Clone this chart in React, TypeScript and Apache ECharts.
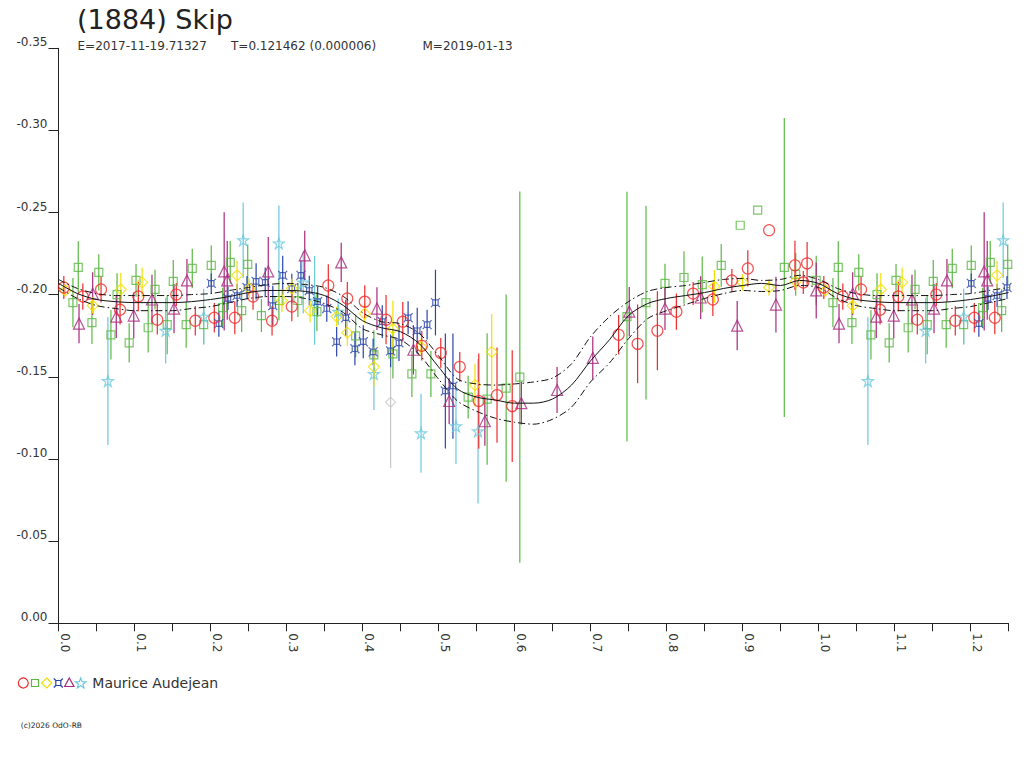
import React, { useEffect, useRef } from 'react';
import * as echarts from 'echarts';

// phase of the fitted curve and its two envelopes
const curvePhase = [
  0, 0.025, 0.05, 0.075, 0.1, 0.125, 0.15, 0.175, 0.2, 0.225, 0.25, 0.275, 0.3, 0.325,
  0.35, 0.375, 0.4, 0.425, 0.45, 0.475, 0.5, 0.525, 0.55, 0.575, 0.6, 0.625, 0.65,
  0.675, 0.7, 0.725, 0.75, 0.775, 0.8, 0.825, 0.85, 0.875, 0.9, 0.925, 0.95, 0.975, 1.0,
];
const fitMag = [
  -0.2069, -0.2007, -0.1971, -0.1958, -0.1952, -0.1952, -0.1952, -0.1958, -0.1971, -0.1989,
  -0.2013, -0.2026, -0.2026, -0.202, -0.1995, -0.1934, -0.1842, -0.1799, -0.1775, -0.1701,
  -0.1561, -0.1426, -0.1377, -0.1359, -0.134, -0.134, -0.1365, -0.145, -0.1597, -0.1726,
  -0.1873, -0.1946, -0.1977, -0.1995, -0.2013, -0.2038, -0.2056, -0.2069, -0.2056, -0.2087,
  -0.2069,
];
const upperMag = [
  -0.2093, -0.2038, -0.2007, -0.1995, -0.1995, -0.1995, -0.1995, -0.2001, -0.2007, -0.2026,
  -0.2044, -0.2062, -0.2069, -0.2062, -0.2044, -0.1989, -0.1891, -0.1836, -0.1824, -0.1763,
  -0.1628, -0.1487, -0.1457, -0.145, -0.1457, -0.1469, -0.1493, -0.1579, -0.1744, -0.1867,
  -0.1958, -0.202, -0.2044, -0.2056, -0.2075, -0.2093, -0.2099, -0.2087, -0.2093, -0.2118,
  -0.2093,
];
const lowerMag = [
  -0.2044, -0.1977, -0.1934, -0.1916, -0.1903, -0.1903, -0.1903, -0.1916, -0.1928, -0.1952,
  -0.1977, -0.1989, -0.1989, -0.1977, -0.1946, -0.1891, -0.1793, -0.1756, -0.1726, -0.1634,
  -0.1487, -0.1353, -0.1291, -0.1248, -0.1224, -0.1212, -0.1242, -0.1316, -0.1469, -0.1585,
  -0.1732, -0.1854, -0.1903, -0.194, -0.1977, -0.2007, -0.2026, -0.202, -0.2026, -0.2056,
  -0.2044,
];

// observations: [phase, mag, error]
const redCircle = [
  [0.007, -0.2044, 0.007], [0.032, -0.1989, 0.008], [0.056, -0.2032, 0.008], [0.081, -0.1909, 0.009],
  [0.105, -0.1989, 0.009], [0.13, -0.1848, 0.009], [0.155, -0.2001, 0.007], [0.18, -0.1842, 0.009],
  [0.205, -0.186, 0.009], [0.232, -0.186, 0.01], [0.256, -0.1989, 0.008], [0.281, -0.1842, 0.009],
  [0.307, -0.1928, 0.009], [0.355, -0.2056, 0.013], [0.38, -0.1977, 0.01], [0.403, -0.1958, 0.01],
  [0.431, -0.1848, 0.015], [0.453, -0.1836, 0.012], [0.478, -0.1689, 0.009], [0.503, -0.1646, 0.009],
  [0.528, -0.1561, 0.009], [0.553, -0.1353, 0.029], [0.577, -0.1389, 0.029], [0.597, -0.1322, 0.034],
  [0.737, -0.1756, 0.012], [0.762, -0.1701, 0.024], [0.788, -0.1781, 0.024], [0.813, -0.1897, 0.011],
  [0.835, -0.2007, 0.007], [0.861, -0.1971, 0.01], [0.886, -0.2087, 0.007], [0.907, -0.216, 0.011],
  [0.935, -0.2393, 0], [0.969, -0.2179, 0.015], [0.98, -0.2075, 0.007], [0.985, -0.2191, 0.013],
];
const greenSquare = [
  [0.019, -0.1952, 0.015], [0.026, -0.2166, 0.016], [0.044, -0.183, 0.013], [0.053, -0.2136, 0.011],
  [0.069, -0.1756, 0.015], [0.077, -0.2001, 0.013], [0.093, -0.1707, 0.012], [0.102, -0.2087, 0.01],
  [0.118, -0.1799, 0.015], [0.127, -0.2032, 0.012], [0.143, -0.1818, 0.018], [0.151, -0.2081, 0.013],
  [0.168, -0.1818, 0.014], [0.176, -0.216, 0.012], [0.191, -0.1818, 0.012], [0.201, -0.2179, 0.012],
  [0.216, -0.1922, 0.012], [0.226, -0.2197, 0.013], [0.241, -0.1903, 0.013], [0.249, -0.2185, 0.012],
  [0.267, -0.1873, 0.01], [0.29, -0.1965, 0.012], [0.315, -0.1965, 0.01], [0.34, -0.1897, 0.012],
  [0.391, -0.175, 0.013], [0.415, -0.1634, 0.015], [0.44, -0.164, 0.015], [0.465, -0.1518, 0.014],
  [0.49, -0.1518, 0.014], [0.539, -0.1377, 0.013], [0.564, -0.1365, 0.04], [0.589, -0.1432, 0.057],
  [0.607, -0.1499, 0.113], [0.748, -0.1867, 0.076], [0.773, -0.1952, 0.059], [0.798, -0.2069, 0.012],
  [0.823, -0.2105, 0.016], [0.847, -0.2062, 0.017], [0.872, -0.2179, 0.013], [0.897, -0.2423, 0],
  [0.92, -0.2515, 0], [0.955, -0.2166, 0.091], [0.97, -0.2124, 0.013], [0.997, -0.2087, 0.015],
];
const yellowDiamond = [
  [0.009, -0.2026, 0.004], [0.045, -0.1934, 0.005], [0.082, -0.2032, 0.01], [0.11, -0.2075, 0.009],
  [0.235, -0.2118, 0.009], [0.251, -0.2038, 0.006], [0.294, -0.1965, 0.007], [0.307, -0.2038, 0.006],
  [0.331, -0.1903, 0.007], [0.366, -0.1867, 0.006], [0.38, -0.1769, 0.008], [0.403, -0.1885, 0.006],
  [0.415, -0.1561, 0.012], [0.44, -0.1793, 0.017], [0.477, -0.1683, 0.005], [0.548, -0.145, 0.013],
  [0.57, -0.1652, 0.023], [0.863, -0.205, 0.01], [0.9, -0.2075, 0.005], [0.935, -0.2044, 0.005],
  [0.97, -0.2081, 0.005],
];
const grayDiamond = [[0.437, -0.1346, 0.04]];
const blueCross = [
  [0.201, -0.2069, 0.006], [0.211, -0.1824, 0.008], [0.223, -0.1977, 0.007], [0.235, -0.1995, 0.007],
  [0.248, -0.2044, 0.007], [0.26, -0.2081, 0.011], [0.272, -0.2075, 0.009], [0.282, -0.1934, 0.012],
  [0.295, -0.2118, 0.012], [0.307, -0.2038, 0.009], [0.319, -0.2118, 0.009], [0.33, -0.2026, 0.009],
  [0.341, -0.1958, 0.009], [0.353, -0.1916, 0.008], [0.366, -0.1714, 0.009], [0.378, -0.186, 0.011],
  [0.39, -0.1671, 0.01], [0.401, -0.1714, 0.01], [0.414, -0.1652, 0.008], [0.426, -0.1836, 0.01],
  [0.437, -0.1658, 0.01], [0.448, -0.1707, 0.011], [0.46, -0.186, 0.01], [0.472, -0.1781, 0.014],
  [0.485, -0.1818, 0.009], [0.496, -0.1952, 0.02], [0.509, -0.1414, 0.035], [0.519, -0.1444, 0.032],
];
const purpleTriangle = [
  [0.027, -0.1824, 0.012], [0.045, -0.2007, 0.013], [0.076, -0.1867, 0.013], [0.099, -0.1873, 0.014],
  [0.123, -0.1971, 0.015], [0.152, -0.1916, 0.015], [0.169, -0.2087, 0.013], [0.218, -0.2142, 0.036],
  [0.222, -0.2087, 0.024], [0.276, -0.2142, 0.021], [0.324, -0.224, 0.015], [0.372, -0.2197, 0.012],
  [0.419, -0.1916, 0.013], [0.467, -0.1665, 0.015], [0.514, -0.1353, 0.014], [0.561, -0.123, 0.015],
  [0.609, -0.134, 0.013], [0.656, -0.142, 0.014], [0.703, -0.1616, 0.013], [0.751, -0.1897, 0.015],
  [0.798, -0.1916, 0.013], [0.845, -0.1983, 0.013], [0.893, -0.1812, 0.015], [0.944, -0.194, 0.017],
  [0.997, -0.2026, 0.017],
];
const cyanStar = [
  [0.065, -0.1475, 0.039], [0.141, -0.1781, 0.02], [0.191, -0.1867, 0.017], [0.243, -0.2332, 0.023],
  [0.29, -0.2313, 0.023], [0.322, -0.2075, 0.019], [0.337, -0.1965, 0.027], [0.368, -0.1897, 0.008],
  [0.415, -0.1518, 0.022], [0.477, -0.1157, 0.024], [0.523, -0.12, 0.023], [0.552, -0.1169, 0.044],
];

const RED = '#f02a2a';
const GREEN = '#5ab843';
const YELLOW = '#f2e000';
const BLUE = '#2b45a8';
const PURPLE = '#a8297d';
const CYAN = '#6cc8dc';
const GRAY = '#c8c8c8';
const FONT = '"DejaVu Sans", sans-serif';

const STAR = 'path://M5,0L6.2,3.6L10,3.6L6.9,5.8L8.1,9.5L5,7.2L1.9,9.5L3.1,5.8L0,3.6L3.8,3.6Z';
const CROSS = 'path://M2,2L8,2L8,8L2,8Z M0,0L2,2 M10,0L8,2 M10,10L8,8 M0,10L2,8';

// the folded phase plot repeats phases 0 - 0.25 after 1.0
const fold = (pts: number[][]) =>
  pts.concat(pts.filter((p) => p[0] > 0 && p[0] <= 0.25).map((p) => [p[0] + 1, ...p.slice(1)]));

const curve = (mags: number[]) =>
  fold(curvePhase.map((p, i) => [p, mags[i]]));

function obsSeries(name: string, data: number[][], color: string, symbol: string, size: number) {
  const pts = fold(data);
  return [
    {
      name: name + '-err',
      type: 'custom',
      clip: true,
      data: pts,
      encode: { x: 0, y: 1 },
      renderItem: (_p: any, api: any) => {
        const a = api.coord([api.value(0), api.value(1) - api.value(2)]);
        const b = api.coord([api.value(0), api.value(1) + api.value(2)]);
        return {
          type: 'line',
          shape: { x1: a[0], y1: a[1], x2: b[0], y2: b[1] },
          style: { stroke: color, lineWidth: 1.2 },
        };
      },
      z: 1,
    },
    {
      name,
      type: 'scatter',
      data: pts.map((p) => [p[0], p[1]]),
      symbol,
      symbolSize: size,
      itemStyle: { color: 'rgba(0,0,0,0)', borderColor: color, borderWidth: 1.2 },
      z: 2,
    },
  ];
}

function starPoints(cx: number, cy: number, r: number) {
  const pts: number[][] = [];
  for (let i = 0; i < 10; i++) {
    const rr = i % 2 === 0 ? r : r * 0.42;
    const a = -Math.PI / 2 + (i * Math.PI) / 5;
    pts.push([cx + rr * Math.cos(a), cy + rr * Math.sin(a)]);
  }
  return pts;
}

const App: React.FC = () => {
  const chartRef = useRef<HTMLDivElement>(null);

  useEffect(() => {
    if (!chartRef.current) return;
    const chart = echarts.init(chartRef.current, undefined, { renderer: 'svg' });
    const ly = 683;
    const stroke = (c: string) => ({ fill: 'none', stroke: c, lineWidth: 1.2 });

    const option = {
      animation: false,
      backgroundColor: '#fff',
      grid: { left: 58.5, right: 15.5, top: 48.3, bottom: 144.7, containLabel: false },
      xAxis: {
        type: 'value',
        min: 0,
        max: 1.25,
        interval: 0.05,
        splitLine: { show: false },
        axisLine: { lineStyle: { color: '#222', width: 1 } },
        axisTick: { length: 8, lineStyle: { color: '#222' } },
        axisLabel: {
          rotate: -90,
          margin: 10,
          verticalAlign: 'bottom',
          fontFamily: FONT,
          fontSize: 12,
          color: '#333',
          formatter: (v: number) =>
            Math.abs(v * 10 - Math.round(v * 10)) < 1e-6 ? v.toFixed(1) : '',
        },
      },
      yAxis: {
        type: 'value',
        inverse: true,
        min: -0.35,
        max: 0,
        interval: 0.05,
        splitLine: { show: false },
        axisLine: { show: true, lineStyle: { color: '#222', width: 1 } },
        axisTick: { show: true, length: 10, lineStyle: { color: '#222' } },
        axisLabel: {
          margin: 11,
          verticalAlign: 'bottom',
          fontFamily: FONT,
          fontSize: 12,
          color: '#333',
          formatter: (v: number) => (Math.abs(v) < 1e-9 ? '0.00' : v.toFixed(2)),
        },
      },
      series: [
        ...obsSeries('green', greenSquare, GREEN, 'rect', 8),
        ...obsSeries('gray', grayDiamond, GRAY, 'diamond', 10),
        ...obsSeries('cyan', cyanStar, CYAN, STAR, 11),
        ...obsSeries('blue', blueCross, BLUE, CROSS, 9),
        ...obsSeries('purple', purpleTriangle, PURPLE, 'triangle', 11),
        ...obsSeries('yellow', yellowDiamond, YELLOW, 'diamond', 11),
        ...obsSeries('red', redCircle, RED, 'circle', 11),
        {
          name: 'fit',
          type: 'line',
          data: curve(fitMag),
          showSymbol: false,
          smooth: 0.3,
          lineStyle: { color: '#111', width: 1 },
          z: 5,
        },
        {
          name: 'upper',
          type: 'line',
          data: curve(upperMag),
          showSymbol: false,
          smooth: 0.3,
          lineStyle: { color: '#111', width: 1, type: [7, 3, 1.5, 3] },
          z: 5,
        },
        {
          name: 'lower',
          type: 'line',
          data: curve(lowerMag),
          showSymbol: false,
          smooth: 0.3,
          lineStyle: { color: '#111', width: 1, type: [7, 3, 1.5, 3] },
          z: 5,
        },
      ],
      graphic: [
        {
          type: 'text',
          x: 77,
          y: 6,
          style: { text: '(1884) Skip', font: `27px ${FONT}`, fill: '#222', verticalAlign: 'top' },
        },
        {
          type: 'text',
          x: 77.5,
          y: 40,
          style: { text: 'E=2017-11-19.71327', font: `12px ${FONT}`, fill: '#333', verticalAlign: 'top' },
        },
        {
          type: 'text',
          x: 231,
          y: 40,
          style: { text: 'T=0.121462 (0.000006)', font: `12px ${FONT}`, fill: '#333', verticalAlign: 'top' },
        },
        {
          type: 'text',
          x: 422.5,
          y: 40,
          style: { text: 'M=2019-01-13', font: `12px ${FONT}`, fill: '#333', verticalAlign: 'top' },
        },
        { type: 'circle', shape: { cx: 23.3, cy: ly, r: 5 }, style: stroke(RED) },
        { type: 'rect', shape: { x: 31.5, y: ly - 3.5, width: 7, height: 7 }, style: stroke(GREEN) },
        {
          type: 'polygon',
          shape: { points: [[46.7, ly - 5], [51.7, ly], [46.7, ly + 5], [41.7, ly]] },
          style: stroke(YELLOW),
        },
        { type: 'rect', shape: { x: 55.8, y: ly - 2.5, width: 5, height: 5 }, style: stroke(BLUE) },
        {
          type: 'polyline',
          shape: { points: [[53.8, ly - 4.5], [55.8, ly - 2.5]] },
          style: stroke(BLUE),
        },
        {
          type: 'polyline',
          shape: { points: [[62.8, ly - 4.5], [60.8, ly - 2.5]] },
          style: stroke(BLUE),
        },
        {
          type: 'polyline',
          shape: { points: [[53.8, ly + 4.5], [55.8, ly + 2.5]] },
          style: stroke(BLUE),
        },
        {
          type: 'polyline',
          shape: { points: [[62.8, ly + 4.5], [60.8, ly + 2.5]] },
          style: stroke(BLUE),
        },
        {
          type: 'polygon',
          shape: { points: [[69.3, ly - 5], [74, ly + 3.5], [64.6, ly + 3.5]] },
          style: stroke(PURPLE),
        },
        { type: 'polygon', shape: { points: starPoints(80.7, ly + 0.5, 5.5) }, style: stroke(CYAN) },
        {
          type: 'text',
          x: 92.3,
          y: ly,
          style: { text: 'Maurice Audejean', font: `14px ${FONT}`, fill: '#333', verticalAlign: 'middle' },
        },
        {
          type: 'text',
          x: 20.7,
          y: 725.5,
          style: { text: '(c)2026 OdO-RB', font: `7.5px ${FONT}`, fill: '#222', verticalAlign: 'middle' },
        },
      ],
    };

    chart.setOption(option as any);
    return () => {
      chart.dispose();
    };
  }, []);

  return (
    <div
      ref={chartRef}
      style={{ position: 'fixed', left: 0, top: 0, width: '1024px', height: '768px', background: '#fff' }}
    />
  );
};

export default App;
